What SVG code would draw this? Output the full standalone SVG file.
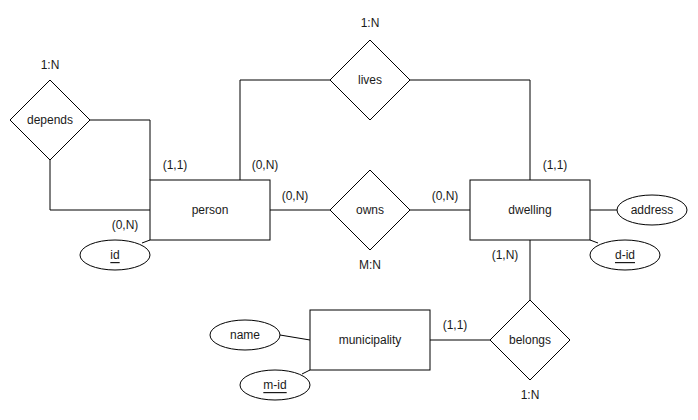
<svg xmlns="http://www.w3.org/2000/svg" width="698" height="420" viewBox="0 0 698 420">
<style>
.s{fill:#fff;stroke:#000;stroke-width:1}
.c{fill:none;stroke:#000;stroke-width:1}
text{font-family:"Liberation Sans",Arial,sans-serif;font-size:12px;fill:#1a1a1a;text-anchor:middle;dominant-baseline:central}
.u{text-decoration:underline}
</style>
<rect width="698" height="420" fill="#fff"/>
<g id="connectors">
<path class="c" d="M90 120H150V180"/>
<path class="c" d="M50 160V210H150"/>
<path class="c" d="M330 80H240V180"/>
<path class="c" d="M410 80H530V180"/>
<path class="c" d="M270 210H330"/>
<path class="c" d="M410 210H470"/>
<path class="c" d="M530 240V300"/>
<path class="c" d="M430 340H490"/>
<path class="c" d="M590 210H617"/>
<path class="c" d="M590 240L598 243"/>
<path class="c" d="M150 240L142 243"/>
<path class="c" d="M280 335L310 340"/>
<path class="c" d="M302 374L310 370"/>
</g>
<g id="labels">
<text x="50" y="65">1:N</text>
<text x="175" y="165">(1,1)</text>
<text x="125" y="225">(0,N)</text>
<text x="370" y="23">1:N</text>
<text x="265" y="165">(0,N)</text>
<text x="555" y="165">(1,1)</text>
<text x="295" y="196">(0,N)</text>
<text x="445" y="196">(0,N)</text>
<text x="370" y="265">M:N</text>
<text x="505" y="255">(1,N)</text>
<text x="455" y="325">(1,1)</text>
<text x="530" y="395">1:N</text>
</g>
<g id="depends"><path class="s" d="M50 80L90 120L50 160L10 120Z"/><text x="50" y="120">depends</text></g>
<g id="lives"><path class="s" d="M370 40L410 80L370 120L330 80Z"/><text x="370" y="80">lives</text></g>
<g id="owns"><path class="s" d="M370 170L410 210L370 250L330 210Z"/><text x="370" y="210">owns</text></g>
<g id="belongs"><path class="s" d="M530 300L570 340L530 380L490 340Z"/><text x="530" y="340">belongs</text></g>
<g id="person"><rect class="s" x="150" y="180" width="120" height="60"/><text x="210" y="210">person</text></g>
<g id="dwelling"><rect class="s" x="470" y="180" width="120" height="60"/><text x="530" y="210">dwelling</text></g>
<g id="municipality"><rect class="s" x="310" y="310" width="120" height="60"/><text x="370" y="340">municipality</text></g>
<g id="id"><ellipse class="s" cx="115" cy="255" rx="35" ry="15"/><text class="u" x="115" y="255">id</text></g>
<g id="address"><ellipse class="s" cx="652" cy="210" rx="35" ry="15"/><text x="652" y="210">address</text></g>
<g id="d-id"><ellipse class="s" cx="625" cy="255" rx="35" ry="15"/><text class="u" x="625" y="255">d-id</text></g>
<g id="name"><ellipse class="s" cx="245" cy="335" rx="35" ry="15"/><text x="245" y="335">name</text></g>
<g id="m-id"><ellipse class="s" cx="275" cy="385" rx="35" ry="15"/><text class="u" x="275" y="385">m-id</text></g>
</svg>
